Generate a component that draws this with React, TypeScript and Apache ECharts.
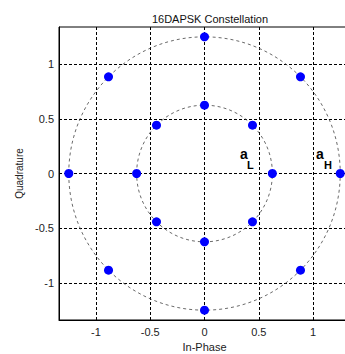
import React, { useEffect, useRef } from "react";
import * as echarts from "echarts";

const titleText = "16DAPSK Constellation";
const xName = "In-Phase";
const yName = "Quadrature";

// axis range and tick values
const axisMin = -1.34;
const axisMax = 1.34;
const tickValues = [-1, -0.5, 0, 0.5, 1];

// constellation points (In-Phase, Quadrature)
const pointsI = [1.25, 0.884, 0, -0.884, -1.25, -0.884, 0, 0.884, 0.625, 0.442, 0, -0.442, -0.625, -0.442, 0, 0.442];
const pointsQ = [0, 0.884, 1.25, 0.884, 0, -0.884, -1.25, -0.884, 0, 0.442, 0.625, 0.442, 0, -0.442, -0.625, -0.442];

// ring radii
const ringRadii = [1.25, 0.625];

const FONT = "'Liberation Sans', Arial, sans-serif";

export default function App() {
  const ref = useRef<HTMLDivElement>(null);
  useEffect(() => {
    if (!ref.current) return;
    const chart = echarts.init(ref.current, null, { renderer: "svg" });
    const points = pointsI.map((x, i) => [x, pointsQ[i]]);
    const rings = ringRadii.map((r) => [0, 0, r]);
    const axisCommon = {
      type: "value",
      min: axisMin,
      max: axisMax,
      axisLine: { show: true, onZero: false, lineStyle: { color: "#000", width: 1 } },
      axisTick: { show: true, inside: true, length: 3, customValues: tickValues, lineStyle: { color: "#000" } },
      splitLine: { show: true, customValues: tickValues, lineStyle: { color: "#000", type: [3, 2], width: 1 } },
      axisLabel: { customValues: tickValues, color: "#222", fontSize: 11, fontFamily: FONT, margin: 6 },
      nameTextStyle: { color: "#222", fontSize: 11, fontFamily: FONT },
      nameLocation: "middle",
    };
    chart.setOption({
      animation: false,
      backgroundColor: "#fff",
      title: {
        text: titleText,
        left: 205,
        top: 8,
        textAlign: "center",
        textStyle: { fontSize: 11, fontWeight: "normal", color: "#111", fontFamily: FONT },
      },
      grid: {
        left: 59,
        right: -5,
        top: 27,
        bottom: 34,
        show: true,
        borderColor: "#000",
        borderWidth: 1,
        backgroundColor: "transparent",
        containLabel: false,
        outerBoundsMode: "none",
      },
      xAxis: { ...axisCommon, name: xName, nameGap: 21 },
      yAxis: {
        ...axisCommon,
        name: yName,
        nameGap: 31,
        nameTextStyle: { color: "#222", fontSize: 10, fontFamily: FONT },
        axisLabel: { ...axisCommon.axisLabel, margin: 5 },
      },
      graphic: [
        { type: "text", x: 240, y: 147, style: { text: "a", font: `bold 14px ${FONT}`, fill: "#000" } },
        { type: "text", x: 247, y: 159, style: { text: "L", font: `bold 11px ${FONT}`, fill: "#000" } },
        { type: "text", x: 316, y: 147, style: { text: "a", font: `bold 14px ${FONT}`, fill: "#000" } },
        { type: "text", x: 324, y: 159, style: { text: "H", font: `bold 11px ${FONT}`, fill: "#000" } },
      ],
      series: [
        {
          type: "custom",
          data: rings,
          encode: { x: 0, y: 1 },
          silent: true,
          renderItem: (params: any, api: any) => {
            const c = api.coord([api.value(0), api.value(1)]);
            const r = api.value(2);
            const s = api.size([r, r]);
            return {
              type: "ellipse",
              shape: { cx: c[0], cy: c[1], rx: s[0], ry: s[1] },
              style: { fill: "none", stroke: "#444", lineWidth: 0.8, lineDash: [3, 3] },
            };
          },
          z: 3,
        },
        {
          type: "scatter",
          data: points,
          symbol: "circle",
          symbolSize: 9,
          itemStyle: { color: "#0000ff", opacity: 1 },
          z: 5,
        },
      ],
    });
    return () => chart.dispose();
  }, []);
  return (
    <div
      ref={ref}
      style={{ position: "fixed", left: 0, top: 0, width: 345, height: 354 }}
    />
  );
}
